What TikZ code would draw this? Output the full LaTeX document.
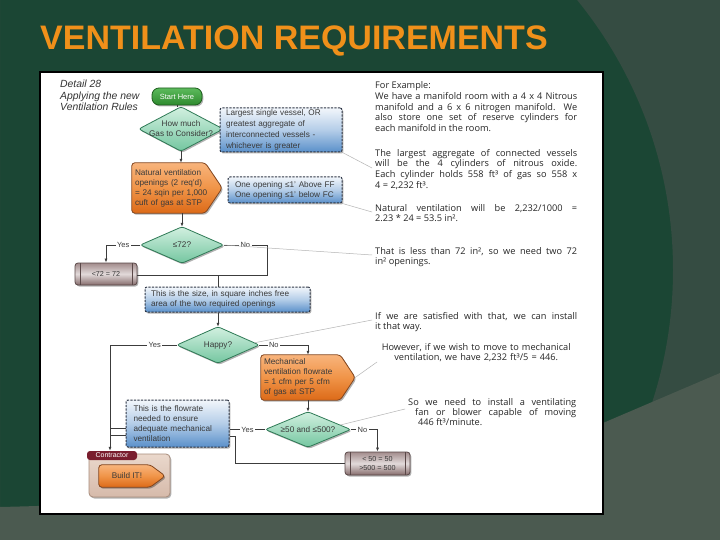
\documentclass[tikz,border=0pt]{standalone}
\usepackage{fontspec}
\setmainfont{Liberation Sans}
\newfontfamily\notefont{Open Sans}
\usetikzlibrary{arrows.meta,calc,shadows}
\pgfdeclarelayer{bg}
\pgfdeclarelayer{shp}
\pgfsetlayers{bg,shp,main}
\definecolor{bgdark}{HTML}{1B4634}
\definecolor{bgmid}{HTML}{354C42}
\definecolor{bglow}{HTML}{4B5A50}
\definecolor{titleor}{HTML}{F0901A}
\definecolor{txt}{HTML}{3A3A3A}
\definecolor{lnk}{HTML}{3C3C3C}
\definecolor{callout}{HTML}{B4B4B4}
\definecolor{dtop}{HTML}{D2F0E0}
\definecolor{dbot}{HTML}{74C6A0}
\definecolor{dbd}{HTML}{2F7A56}
\definecolor{otop}{HTML}{F8B47C}
\definecolor{omid}{HTML}{F09448}
\definecolor{obot}{HTML}{DC6A18}
\definecolor{obd}{HTML}{84461E}
\definecolor{btop}{HTML}{F2F6FB}
\definecolor{bmid}{HTML}{B4CDE8}
\definecolor{bbot}{HTML}{5A90CA}
\definecolor{bbd}{HTML}{2E3646}
\definecolor{gtop}{HTML}{A28C8C}
\definecolor{gmid}{HTML}{E2DADA}
\definecolor{gbot}{HTML}{866C6C}
\definecolor{gbd}{HTML}{5A4848}
\definecolor{ctop}{HTML}{EAD8CC}
\definecolor{cbot}{HTML}{D6BAAA}
\definecolor{cbd}{HTML}{A88C7C}
\definecolor{tabred}{HTML}{7A1E2E}
\definecolor{sgtop}{HTML}{5CBA5C}
\definecolor{sgbot}{HTML}{2E8A2E}
\definecolor{sgbd}{HTML}{1E5E1E}
\newcommand\diamondbg[1]{\begin{pgfonlayer}{shp}\path[dshape] (#1.north) -- (#1.east) -- (#1.south) -- (#1.west) -- cycle;\end{pgfonlayer}}
\newcommand\pentabg[2]{\begin{pgfonlayer}{shp}\path[oshape] (#1.north west) -- ([xshift=-#2pt]#1.north east) -- (#1.east) -- ([xshift=-#2pt]#1.south east) -- (#1.south west) -- cycle;\end{pgfonlayer}}
\tikzset{
 shd/.style={drop shadow={shadow xshift=1.3pt, shadow yshift=-1.5pt, opacity=0.3, fill=black}},
 ft/.style={font=\fontsize{8.2}{10}\selectfont, text=txt},
 txtnode/.style={ft, inner sep=0pt, align=center},
 lefttxt/.style={ft, inner ysep=0pt, align=left},
 dshape/.style={shd, draw=dbd, line width=0.8pt, top color=dtop, bottom color=dbot, rounded corners=2.5pt},
 oshape/.style={shd, draw=obd, line width=0.8pt, top color=otop, bottom color=obot, middle color=omid, rounded corners=3pt},
 bluebox/.style={shd, ft, draw=bbd, line width=1pt, dash pattern=on 2.2pt off 1.3pt, rounded corners=2pt, top color=btop, bottom color=bbot, middle color=bmid, align=left, inner ysep=0pt},
 graybox/.style={shd, font=\fontsize{7.2}{8.6}\selectfont, text=txt, draw=gbd, line width=0.8pt, rounded corners=3pt, top color=gtop, bottom color=gbot, middle color=gmid, inner sep=0pt, align=center,
   path picture={\draw[gbd, line width=0.6pt] ([xshift=5pt]path picture bounding box.north west) -- ([xshift=5pt]path picture bounding box.south west);
                 \draw[gbd, line width=0.6pt] ([xshift=-5pt]path picture bounding box.north east) -- ([xshift=-5pt]path picture bounding box.south east);}},
 conn/.style={draw=lnk, line width=0.7pt},
 arr/.style={conn, -{Latex[length=4pt,width=3pt]}},
 lbl/.style={font=\fontsize{7.5}{9}\selectfont, text=txt, fill=white, inner sep=1.5pt},
 call/.style={draw=callout, line width=0.5pt},
 note/.style={font=\notefont\fontsize{9.2}{10.7}\selectfont, text=black!85, inner sep=0pt, anchor=north west},
}
\begin{document}
\begin{tikzpicture}[x=1pt,y=-1pt]
\useasboundingbox (0,0) rectangle (720,540);
\begin{pgfonlayer}{bg}
\fill[bgdark] (0,0) rectangle (720,540);
\begin{scope}
\clip (0,0) rectangle (720,540);
\fill[bgmid, even odd rule] (0,0) rectangle (720,540) (245,270) circle[radius=428pt];
\end{scope}
\fill[bglow] (0,507) .. controls (300,500) and (480,470) .. (603,423) -- (720,373) -- (720,540) -- (0,540) -- cycle;
\draw[line width=2pt, fill=white] (40,72) rectangle (603,514);
\end{pgfonlayer}

\node[anchor=base west, inner sep=0pt, font=\fontsize{34}{40}\selectfont\bfseries, text=titleor] (title) at (40,50) {VENTILATION REQUIREMENTS};

\node[anchor=north west, inner sep=0pt, align=left, font=\itshape\fontsize{10.4}{11.3}\selectfont, text=black!80] (detail) at (60,80) {Detail 28\\Applying the new\\Ventilation Rules};

% flowchart nodes
\node[shd, draw=sgbd, line width=0.8pt, rounded corners=7pt, top color=sgtop, bottom color=sgbot, text=white, font=\fontsize{7.5}{9}\selectfont, minimum width=50pt, minimum height=17pt, inner sep=0pt] (start) at (177,96.5) {Start Here};

\node[txtnode, minimum width=84pt, minimum height=44pt] (d1) at (181,129) {How much\\Gas to Consider?};
\diamondbg{d1}

\node[bluebox, minimum width=122pt, minimum height=44pt, text width=110pt, inner xsep=6pt, font=\fontsize{8.2}{11}\selectfont] (b1) at (281,130) {Largest single vessel, OR\\greatest aggregate of\\interconnected vessels -\\whichever is greater};

\node[lefttxt, minimum width=90pt, minimum height=50pt, text width=84pt, inner xsep=3pt] (nat) at (177,188) {Natural ventilation\\openings (2 req'd)\\= 24 sqin per 1,000\\cuft of gas at STP};
\pentabg{nat}{17}

\node[bluebox, minimum width=114pt, minimum height=26pt, text width=100pt, inner xsep=7pt] (b2) at (285,190) {One opening ≤1' Above FF\\One opening ≤1' below FC};

\node[txtnode, minimum width=83pt, minimum height=36pt] (d2) at (182,245) {≤72?};
\diamondbg{d2}

\node[graybox, minimum width=62pt, minimum height=22pt] (gray1) at (106,274) {<72 = 72};

\node[bluebox, minimum width=165pt, minimum height=25pt, text width=153pt, inner xsep=6pt] (b3) at (227.5,299.5) {This is the size, in square inches free\\area of the two required openings};

\node[txtnode, minimum width=82pt, minimum height=36pt] (happy) at (218,345) {Happy?};
\diamondbg{happy}

\node[lefttxt, minimum width=94pt, minimum height=45pt, text width=88pt, inner xsep=3pt] (mech) at (308,377.5) {Mechanical\\ventilation flowrate\\= 1 cfm per 5 cfm\\of gas at STP};
\pentabg{mech}{15}

\node[txtnode, minimum width=85pt, minimum height=35pt] (d3) at (308,429.5) {≥50 and ≤500?};
\diamondbg{d3}

\node[graybox, minimum width=65pt, minimum height=23pt] (gray2) at (377.5,463.5) {< 50 = 50\\>500 = 500};

\node[bluebox, minimum width=103pt, minimum height=47pt, text width=88pt, inner xsep=7.5pt] (b4) at (177.5,423.5) {This is the flowrate\\needed to ensure\\adequate mechanical\\ventilation};

\begin{pgfonlayer}{shp}
\node[shd, draw=cbd, line width=0.8pt, rounded corners=4pt, top color=ctop, bottom color=cbot, minimum width=81pt, minimum height=43pt, inner sep=0pt] (contr) at (129.5,475.5) {};
\end{pgfonlayer}
\node[fill=tabred, rounded corners=3pt, text=white, font=\fontsize{7}{8}\selectfont, minimum width=50pt, minimum height=9pt, inner sep=0pt] (tab) at (112,455.5) {Contractor};
\node[txtnode, minimum width=66pt, minimum height=22pt] (build) at (132,476) {\hspace*{-10pt}Build IT!};
\pentabg{build}{15}

% connectors
\draw[conn] (start.south) -- (start.south |- d1.north);
\draw[arr] (d1.south) -- (d1.south |- nat.north);
\draw[arr] (d2.north |- nat.south) -- (d2.north);
\draw[arr] (d2.west) -- node[lbl]{Yes} (d2.west -| gray1.north) -- (gray1.north);
\coordinate (n1) at (267,275);
\coordinate (j1) at (218,275);
\draw[conn] (d2.east) -- node[lbl]{No} (d2.east -| n1) -- (n1) -- (gray1.east |- n1);
\draw[conn] (j1) -- (j1 |- b3.north);
\draw[arr] (j1 |- b3.south) -- (happy.north);
\coordinate (yc) at (110,345);
\draw[arr] (happy.west) -- node[lbl, pos=0.33]{Yes} (yc) -- (yc |- tab.north);
\draw[arr] (happy.east) -- node[lbl, pos=0.3]{No} (happy.east -| mech.north) -- (mech.north);
\draw[arr] (mech.south) -- (d3.north);
\draw[conn] (d3.west) -- node[lbl]{Yes} (d3.west -| b4.east);
\draw[arr] (d3.east) -- node[lbl, pos=0.44]{No} (d3.east -| gray2.north) -- (gray2.north);
\coordinate (j2) at (235,436);
\draw[conn] (gray2.west) -| (j2) -- (j2 -| b4.east);
\coordinate (q1) at ($(b4.west)+(0,4.5)$);
\coordinate (q2) at ($(b4.west)+(0,11.5)$);
\draw[conn] (q1) -- (q1 -| yc);
\draw[conn] (q2) -- (q2 -| yc);

% callout lines
\coordinate (e1) at (372,168);
\coordinate (e2) at (372,212);
\coordinate (e3) at (372,255);
\coordinate (e4) at (372,320);
\coordinate (e5) at (377,362);
\coordinate (e6) at (405,409);
\draw[call] (b1.south east) -- (e1);
\draw[call] (b2.south east) -- (e2);
\draw[call] (d2.east) -- (e3);
\draw[call] ($(happy.east)!0.12!(happy.north)$) -- (e4);
\draw[call] (mech.east) -- (e5);
\draw[call] ($(d3.north)!0.75!(d3.east)$) -- (e6);

% notes
\node[note, text width=202pt, align=justify] (p1) at (375,81.5) {For Example:\newline We have a manifold room with a 4 x 4 Nitrous\linebreak manifold and a 6 x 6 nitrogen manifold. We\linebreak also store one set of reserve cylinders for\linebreak each manifold in the room.};
\node[note, text width=202pt, align=justify] (p2) at (375,149) {The largest aggregate of connected vessels\linebreak will be the 4 cylinders of nitrous oxide.\linebreak Each cylinder holds 558 ft³ of gas so 558 x\linebreak 4 = 2,232 ft³.};
\node[note, text width=202pt, align=justify] (p3) at (375,204) {Natural ventilation will be 2,232/1000 =\linebreak 2.23 * 24 = 53.5 in².};
\node[note, text width=202pt, align=justify] (p4) at (375,247) {That is less than 72 in², so we need two 72\linebreak in² openings.};
\node[note, text width=202pt, align=justify] (p5) at (375,312) {If we are satisfied with that, we can install\linebreak it that way.};
\node[note, text width=202pt, align=center] (p6) at (375,343) {However, if we wish to move to mechanical\\ventilation, we have 2,232 ft³/5 = 446.};
\node[note, text width=168pt, align=justify, font=\notefont\fontsize{9.2}{10}\selectfont] (p7) at (408,398) {So we need to install a ventilating\linebreak \hspace*{7pt}fan or blower capable of moving\linebreak \hspace*{10pt}446 ft³/minute.};
\end{tikzpicture}
\end{document}
